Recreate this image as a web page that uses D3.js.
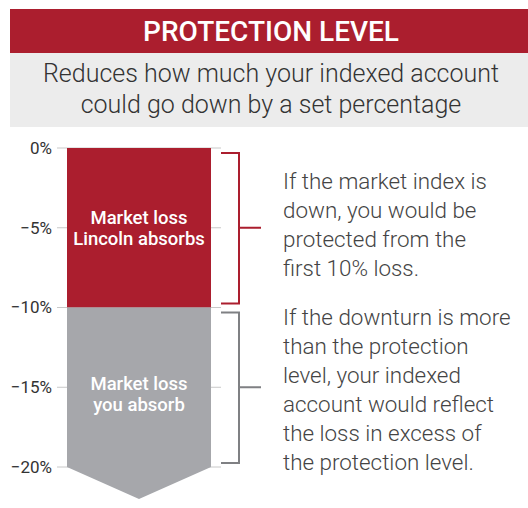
<!DOCTYPE html>
<html>
<head>
<meta charset="utf-8">
<script src="https://cdn.jsdelivr.net/npm/d3@7"></script>
<style>
  body { margin: 0; background: #fff; }
  text { font-family: Roboto, "Noto Sans", sans-serif; }
</style>
</head>
<body>
<div id="chart"></div>
<script>
// dati
const title = "PROTECTION LEVEL";
const subtitle = ["Reduces how much your indexed account", "could go down by a set percentage"];
const bandNames = ["Lincoln", "You"];
const bandTop = [0, -10];
const bandBottom = [-10, -20];
const bandLabels = [["Market loss", "Lincoln absorbs"], ["Market loss", "you absorb"]];
const bandNotes = [
  ["If the market index is", "down, you would be", "protected from the", "first 10% loss."],
  ["If the downturn is more", "than the protection", "level, your indexed", "account would reflect", "the loss in excess of", "the protection level."]
];
const tickValues = [0, -5, -10, -15, -20];
const arrowTip = -22;

const width = 528, height = 508;
const red = "#ab1e2e", gray = "#a6a7ab";
const colorScale = d3.scaleOrdinal().domain(bandNames).range([red, gray]);
const bracketColor = d3.scaleOrdinal().domain(bandNames).range([red, "#7f8083"]);

const svg = d3.select("#chart").append("svg").attr("width", width).attr("height", height);

// Intestazione
svg.append("rect").attr("x", 10).attr("y", 9).attr("width", width - 10).attr("height", 44).attr("fill", red);
svg.append("text").attr("x", 271).attr("y", 41).attr("text-anchor", "middle")
  .attr("fill", "#fff").style("font-size", "28px").style("font-weight", 500).text(title);
svg.append("rect").attr("x", 10).attr("y", 53).attr("width", width - 10).attr("height", 74).attr("fill", "#ececec");
subtitle.forEach((s, i) => {
  svg.append("text").attr("x", 271).attr("y", 82 + i * 31).attr("text-anchor", "middle")
    .attr("fill", "#333").style("font-size", "25px").style("font-weight", 300).text(s);
});

// Scala
const y = d3.scaleLinear().domain([0, -20]).range([148, 467]);
const barX = 67, barW = 144;

// Griglia e assi
const axis = d3.axisLeft(y).tickValues(tickValues).tickSize(0).tickPadding(5)
  .tickFormat(d => (d < 0 ? "\u2212" + Math.abs(d) : d) + "%");
const gAxis = svg.append("g").attr("transform", `translate(57,0)`).call(axis);
gAxis.select(".domain").remove();
gAxis.selectAll("text").attr("fill", "#333").style("font-size", "17px").style("font-family", "Roboto, sans-serif");

svg.append("g").selectAll("line").data(tickValues).enter().append("line")
  .attr("x1", 57).attr("x2", 221)
  .attr("y1", d => y(d)).attr("y2", d => y(d))
  .attr("stroke", "#c8c8c8").attr("stroke-width", 1);

// Barre
const bands = bandNames.map((n, i) => ({ name: n, top: bandTop[i], bottom: bandBottom[i], label: bandLabels[i], note: bandNotes[i] }));

svg.selectAll("path.band").data(bands).enter().append("path").attr("class", "band")
  .attr("fill", d => colorScale(d.name))
  .attr("d", (d, i) => {
    const yt = y(d.top), yb = y(d.bottom);
    if (i === bands.length - 1) {
      return `M${barX},${yt}H${barX + barW}V${yb}L${barX + barW / 2},${y(arrowTip)}L${barX},${yb}Z`;
    }
    return `M${barX},${yt}H${barX + barW}V${yb}H${barX}Z`;
  });

// Etichette delle barre
const labelShift = [-4, 3];
bands.forEach((d, i) => {
  const mid = (y(d.top) + y(d.bottom)) / 2;
  d.label.forEach((l, j) => {
    svg.append("text").attr("x", barX + barW / 2).attr("y", mid + labelShift[i] + j * 21)
      .attr("text-anchor", "middle").attr("fill", "#fff")
      .style("font-size", "18.5px").style("font-weight", 500).text(l);
  });
});

// Parentesi
bands.forEach(d => {
  const yt = y(d.top) + 5, yb = y(d.bottom) - 4, mid = (y(d.top) + y(d.bottom)) / 2;
  svg.append("path")
    .attr("d", `M221,${yt}H239V${yb}H221M239,${mid}H261`)
    .attr("fill", "none").attr("stroke", bracketColor(d.name)).attr("stroke-width", 2);
});

// Note
const noteY = [189, 325];
bands.forEach((d, i) => {
  d.note.forEach((l, j) => {
    svg.append("text").attr("x", 283).attr("y", noteY[i] + j * 29)
      .attr("fill", "#444").style("font-size", "22.4px").style("font-weight", 300).text(l);
  });
});
</script>
</body>
</html>
